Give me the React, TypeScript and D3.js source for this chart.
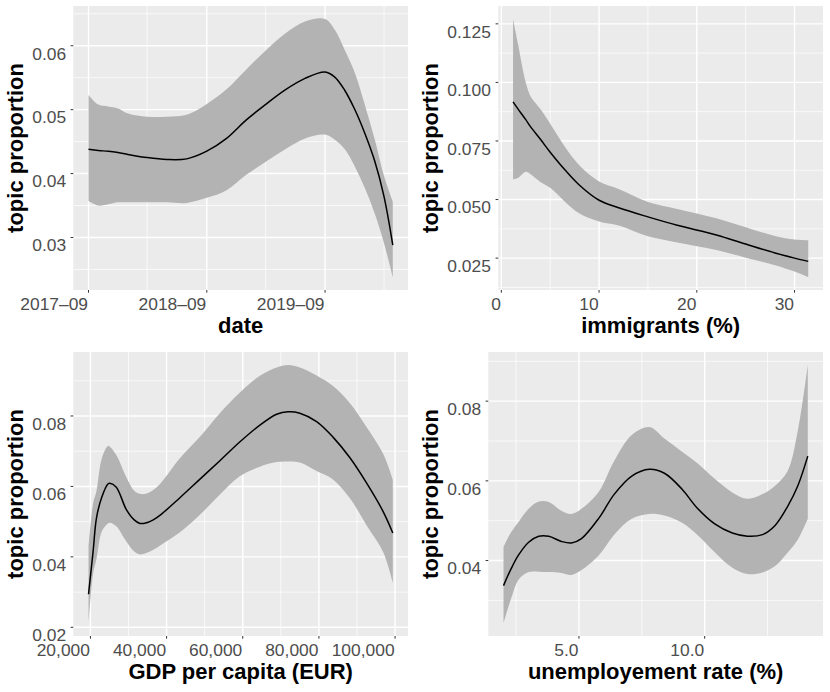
import * as d3 from "d3"

// smoothed topic proportion by date
const DATE_X = [
  "2017-09-01", "2017-10-01", "2017-11-01", "2017-12-01", "2018-01-01", "2018-03-01",
  "2018-05-01", "2018-07-01", "2018-09-01", "2018-11-01", "2019-01-01", "2019-03-01",
  "2019-05-01", "2019-07-01", "2019-09-01", "2019-10-01", "2019-11-01", "2019-12-01",
  "2020-01-01", "2020-02-01", "2020-03-01", "2020-03-28",
]
const DATE_MEAN = [
  0.0438, 0.0436, 0.0435, 0.0433, 0.043, 0.0425, 0.0422, 0.0423, 0.0435, 0.0455, 0.0484,
  0.0508, 0.0531, 0.0549, 0.0559, 0.0551, 0.053, 0.0501, 0.0464, 0.042, 0.0364, 0.0288,
]
const DATE_UPPER = [
  0.0523, 0.0508, 0.0505, 0.0502, 0.0494, 0.0489, 0.0489, 0.0492, 0.0509, 0.0532, 0.0563,
  0.0592, 0.0619, 0.0638, 0.0642, 0.0625, 0.0593, 0.0559, 0.0509, 0.0454, 0.0396, 0.0356,
]
const DATE_LOWER = [
  0.0357, 0.035, 0.0352, 0.0355, 0.0355, 0.0355, 0.0355, 0.0354, 0.0362, 0.0374, 0.0398,
  0.0418, 0.0438, 0.0455, 0.0461, 0.0453, 0.0438, 0.0412, 0.0378, 0.0338, 0.0291, 0.0238,
]

// immigrants (%)
const IMM_X = [1.2, 1.7, 2.5, 3, 4, 5, 6.5, 8, 10, 12, 15, 18, 22, 25, 28, 30, 31.4]
const IMM_MEAN = [
  0.0917, 0.0887, 0.0841, 0.081, 0.0757, 0.0702, 0.0627, 0.0561, 0.0497, 0.0465, 0.0426,
  0.039, 0.0349, 0.031, 0.0272, 0.025, 0.0236,
]
const IMM_UPPER = [
  0.1271, 0.1165, 0.1, 0.094, 0.0886, 0.0823, 0.0725, 0.0645, 0.0577, 0.0545, 0.049,
  0.046, 0.042, 0.0382, 0.0344, 0.0329, 0.0326,
]
const IMM_LOWER = [
  0.0586, 0.0592, 0.0619, 0.0608, 0.0575, 0.055, 0.0491, 0.044, 0.0406, 0.0389, 0.0343,
  0.0317, 0.0285, 0.0252, 0.022, 0.0193, 0.0169,
]

// GDP per capita (EUR)
const GDP_X = [
  19500, 20700, 21600, 23000, 24600, 25100, 26800, 29400, 31500, 33000, 34500, 36500,
  38500, 43500, 48700, 54000, 59200, 64500, 68900, 71900, 75000, 79400, 83700, 88100,
  92500, 96900, 99400,
]
const GDP_MEAN = [
  0.0294, 0.0415, 0.0511, 0.057, 0.0607, 0.0609, 0.0598, 0.0535, 0.0505, 0.0495, 0.0496,
  0.0505, 0.052, 0.0568, 0.062, 0.0673, 0.0726, 0.0774, 0.0805, 0.0812, 0.0808, 0.0784,
  0.074, 0.0682, 0.061, 0.0528, 0.0468,
]
const GDP_UPPER = [
  0.0429, 0.0551, 0.0588, 0.068, 0.0715, 0.0713, 0.0689, 0.0627, 0.0588, 0.0579, 0.0579,
  0.059, 0.061, 0.068, 0.074, 0.0808, 0.0866, 0.0914, 0.0938, 0.0945, 0.0938, 0.0915,
  0.0885, 0.0837, 0.0769, 0.0692, 0.0619,
]
const GDP_LOWER = [
  0.0212, 0.0352, 0.0395, 0.0473, 0.0495, 0.0497, 0.0487, 0.0444, 0.0415, 0.0407, 0.041,
  0.042, 0.0434, 0.047, 0.0519, 0.0577, 0.0629, 0.0656, 0.0669, 0.0671, 0.0668, 0.0644,
  0.062, 0.0567, 0.049, 0.0413, 0.0326,
]

// unemployement rate (%)
const UNE_X = [
  2.0, 2.3, 2.6, 3.0, 3.4, 3.8, 4.3, 4.7, 5.1, 5.8, 6.4, 7.1, 7.8, 8.4, 9.1, 9.7, 10.4,
  11.1, 11.7, 12.3, 12.8, 13.3, 13.7, 14.1,
]
const UNE_MEAN = [
  0.0337, 0.0379, 0.0414, 0.0446, 0.0461, 0.0461, 0.0448, 0.0444, 0.0455, 0.0507, 0.0566,
  0.0612, 0.0629, 0.0619, 0.0579, 0.0532, 0.0492, 0.0469, 0.0461, 0.0465, 0.0488, 0.0536,
  0.0587, 0.0662,
]
const UNE_UPPER = [
  0.0434, 0.0471, 0.0497, 0.053, 0.0548, 0.0547, 0.0525, 0.0517, 0.053, 0.0574, 0.065,
  0.0715, 0.0735, 0.0706, 0.0673, 0.0645, 0.0605, 0.0571, 0.0555, 0.0567, 0.0588, 0.0625,
  0.0725, 0.0891,
]
const UNE_LOWER = [
  0.0243, 0.0304, 0.0352, 0.0371, 0.0372, 0.0371, 0.0369, 0.0364, 0.0376, 0.0414, 0.0465,
  0.0505, 0.0517, 0.0513, 0.0495, 0.0465, 0.0421, 0.0382, 0.0366, 0.037, 0.0386, 0.042,
  0.0452, 0.0505,
]

// axis breaks
const DATE_TICKS = ["2017-09-01", "2018-09-01", "2019-09-01"]
const DATE_MINOR = ["2018-03-01", "2019-03-01", "2020-03-01"]
const IMM_TICKS = [0, 10, 20, 30]
const IMM_MINOR = [5, 15, 25]
const GDP_TICKS = [20000, 40000, 60000, 80000, 100000]
const GDP_MINOR = [30000, 50000, 70000, 90000]
const UNE_TICKS = [5, 10]
const UNE_MINOR = [2.5, 7.5, 12.5]

const Y1_TICKS = [0.03, 0.04, 0.05, 0.06]
const Y1_MINOR = [0.025, 0.035, 0.045, 0.055, 0.065]
const Y2_TICKS = [0.025, 0.05, 0.075, 0.1, 0.125]
const Y2_MINOR = [0.0125, 0.0375, 0.0625, 0.0875, 0.1125]
const Y3_TICKS = [0.02, 0.04, 0.06, 0.08]
const Y3_MINOR = [0.03, 0.05, 0.07, 0.09]
const Y4_TICKS = [0.04, 0.06, 0.08]
const Y4_MINOR = [0.03, 0.05, 0.07, 0.09]

const FONT = "'Liberation Sans', Arial, Helvetica, sans-serif"
const PANEL_TOP = 6
const PANEL_BOTTOM = 290
const PANEL_RIGHT = 408

const parseDate = (s: string) => new Date(s + "T00:00:00Z")
const fmtDate = (d: Date) => d3.utcFormat("%Y–%m")(d)
const fmtComma = d3.format(",")

function expand(lo: number, hi: number): [number, number] {
  const pad = (hi - lo) * 0.05
  return [lo - pad, hi + pad]
}

interface PanelCfg {
  ox: number
  oy: number
  left: number
  xs: number[]
  mean: number[]
  lower: number[]
  upper: number[]
  xTicks: number[]
  xMinor: number[]
  xFormat: (v: number) => string
  yTicks: number[]
  yMinor: number[]
  yFormat: (v: number) => string
  xTitle: string
}

const panels: PanelCfg[] = [
  {
    ox: 0, oy: 0, left: 73.3,
    xs: DATE_X.map((d) => +parseDate(d)),
    mean: DATE_MEAN, lower: DATE_LOWER, upper: DATE_UPPER,
    xTicks: DATE_TICKS.map((d) => +parseDate(d)),
    xMinor: DATE_MINOR.map((d) => +parseDate(d)),
    xFormat: (v) => fmtDate(new Date(v)),
    yTicks: Y1_TICKS, yMinor: Y1_MINOR, yFormat: d3.format(".2f"),
    xTitle: "date",
  },
  {
    ox: 415, oy: 0, left: 83.3,
    xs: IMM_X, mean: IMM_MEAN, lower: IMM_LOWER, upper: IMM_UPPER,
    xTicks: IMM_TICKS, xMinor: IMM_MINOR, xFormat: (v) => String(v),
    yTicks: Y2_TICKS, yMinor: Y2_MINOR, yFormat: d3.format(".3f"),
    xTitle: "immigrants (%)",
  },
  {
    ox: 0, oy: 346, left: 73.3,
    xs: GDP_X, mean: GDP_MEAN, lower: GDP_LOWER, upper: GDP_UPPER,
    xTicks: GDP_TICKS, xMinor: GDP_MINOR, xFormat: (v) => fmtComma(v),
    yTicks: Y3_TICKS, yMinor: Y3_MINOR, yFormat: d3.format(".2f"),
    xTitle: "GDP per capita (EUR)",
  },
  {
    ox: 415, oy: 346, left: 73.3,
    xs: UNE_X, mean: UNE_MEAN, lower: UNE_LOWER, upper: UNE_UPPER,
    xTicks: UNE_TICKS, xMinor: UNE_MINOR, xFormat: d3.format(".1f"),
    yTicks: Y4_TICKS, yMinor: Y4_MINOR, yFormat: d3.format(".2f"),
    xTitle: "unemployement rate (%)",
  },
]

function Panel({ cfg }: { cfg: PanelCfg }) {
  const { xs, mean, lower, upper, left } = cfg
  const [xlo, xhi] = d3.extent(xs) as [number, number]
  const x = d3.scaleLinear().domain(expand(xlo, xhi)).range([left, PANEL_RIGHT])
  const y = d3
    .scaleLinear()
    .domain(expand(d3.min(lower)!, d3.max(upper)!))
    .range([PANEL_BOTTOM, PANEL_TOP])

  const idx = d3.range(xs.length)
  const curve = d3.curveCatmullRom.alpha(0.5)
  const area = d3
    .area<number>()
    .x((i) => x(xs[i]))
    .y0((i) => y(lower[i]))
    .y1((i) => y(upper[i]))
    .curve(curve)
  const line = d3
    .line<number>()
    .x((i) => x(xs[i]))
    .y((i) => y(mean[i]))
    .curve(curve)

  const [d0, d1] = x.domain()
  const [r0, r1] = y.domain()
  const inX = (v: number) => v >= d0 && v <= d1
  const inY = (v: number) => v >= r0 && v <= r1
  const midY = (PANEL_TOP + PANEL_BOTTOM) / 2

  return (
    <g transform={`translate(${cfg.ox},${cfg.oy})`}>
      <rect x={left} y={PANEL_TOP} width={PANEL_RIGHT - left} height={PANEL_BOTTOM - PANEL_TOP} fill="#EBEBEB" />
      {cfg.yMinor.filter(inY).map((v) => (
        <line key={`ym${v}`} x1={left} x2={PANEL_RIGHT} y1={y(v)} y2={y(v)} stroke="#fff" strokeWidth={0.7} />
      ))}
      {cfg.xMinor.filter(inX).map((v) => (
        <line key={`xm${v}`} x1={x(v)} x2={x(v)} y1={PANEL_TOP} y2={PANEL_BOTTOM} stroke="#fff" strokeWidth={0.7} />
      ))}
      {cfg.yTicks.map((v) => (
        <line key={`yg${v}`} x1={left} x2={PANEL_RIGHT} y1={y(v)} y2={y(v)} stroke="#fff" strokeWidth={1.4} />
      ))}
      {cfg.xTicks.map((v) => (
        <line key={`xg${v}`} x1={x(v)} x2={x(v)} y1={PANEL_TOP} y2={PANEL_BOTTOM} stroke="#fff" strokeWidth={1.4} />
      ))}
      <path d={area(idx) ?? ""} fill="#B3B3B3" />
      <path d={line(idx) ?? ""} fill="none" stroke="#000" strokeWidth={1.5} />

      {cfg.yTicks.map((v) => (
        <g key={`yt${v}`}>
          <line x1={left - 2.7} x2={left} y1={y(v)} y2={y(v)} stroke="#333" strokeWidth={1} />
          <text x={32.3} y={y(v) + 13.8} fontSize={17.4} fill="#4D4D4D" fontFamily={FONT}>
            {cfg.yFormat(v)}
          </text>
        </g>
      ))}
      {cfg.xTicks.map((v) => (
        <g key={`xt${v}`}>
          <line x1={x(v)} x2={x(v)} y1={PANEL_BOTTOM} y2={PANEL_BOTTOM + 2.7} stroke="#333" strokeWidth={1} />
          <text x={x(v) - 0.5} y={PANEL_BOTTOM + 20.3} fontSize={17.4} fill="#4D4D4D" fontFamily={FONT} textAnchor="end">
            {cfg.xFormat(v)}
          </text>
        </g>
      ))}

      <text
        x={(left + PANEL_RIGHT) / 2}
        y={333}
        textAnchor="middle"
        fontSize={22}
        fontWeight="bold"
        fontFamily={FONT}
      >
        {cfg.xTitle}
      </text>
      <text
        transform={`translate(23,${midY}) rotate(-90)`}
        textAnchor="middle"
        fontSize={22}
        fontWeight="bold"
        fontFamily={FONT}
      >
        topic proportion
      </text>
    </g>
  )
}

export default function App() {
  return (
    <svg
      width={830}
      height={692}
      style={{ position: "absolute", left: 0, top: 0, background: "#fff" }}
    >
      <rect width={830} height={692} fill="#fff" />
      {panels.map((p, i) => (
        <Panel key={i} cfg={p} />
      ))}
    </svg>
  )
}
